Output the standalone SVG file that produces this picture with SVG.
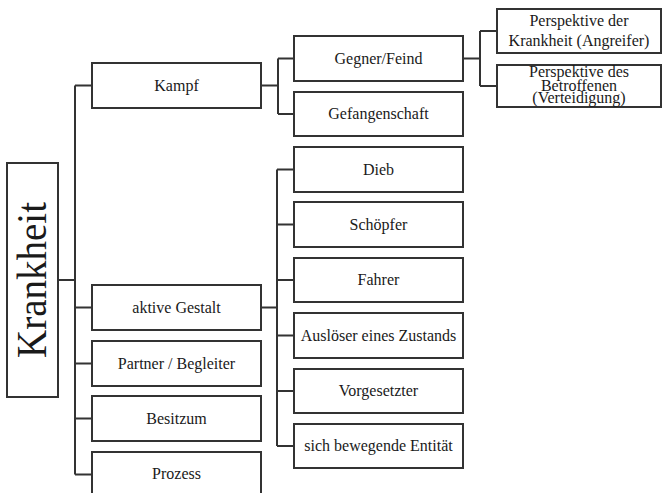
<svg xmlns="http://www.w3.org/2000/svg" width="662" height="493" viewBox="0 0 662 493">
<style>
.box{fill:#fff;stroke:#333;stroke-width:2}
.t{font-family:"Liberation Serif","Times New Roman",serif;font-size:16px;fill:#1a1a1a;text-anchor:middle}
.c{fill:none;stroke:#333;stroke-width:2}
</style>
<rect width="662" height="493" fill="#fff"/>
<g id="connectors">
<path class="c" d="M58,280H75M75,85.5V474.5M75,85.5H92M75,307.5H92M75,363.5H92M75,418.5H92M75,474.5H92"/>
<path class="c" d="M261,85.5H278M278,58.5V114M278,58.5H294M278,114H294"/>
<path class="c" d="M463,58.5H480M480,31V86M480,31H497M480,86H497"/>
<path class="c" d="M261,307.5H277M277,169.5V446M277,169.5H294M277,224.5H294M277,280H294M277,335.5H294M277,391H294M277,446H294"/>
</g>
<g id="krankheit"><rect class="box" x="7" y="163" width="51" height="234"/>
<text transform="translate(46,280) rotate(-90)" style="font-family:'Liberation Serif','Times New Roman',serif;font-size:43px;fill:#1a1a1a;text-anchor:middle" textLength="156" lengthAdjust="spacingAndGlyphs">Krankheit</text></g>
<g id="kampf"><rect class="box" x="92" y="63" width="169" height="45"/><text class="t" x="176.5" y="91">Kampf</text></g>
<g id="aktive"><rect class="box" x="92" y="285" width="169" height="45"/><text class="t" x="176.5" y="313">aktive Gestalt</text></g>
<g id="partner"><rect class="box" x="92" y="341" width="169" height="45"/><text class="t" x="176.5" y="369">Partner / Begleiter</text></g>
<g id="besitzum"><rect class="box" x="92" y="396" width="169" height="45"/><text class="t" x="176.5" y="424">Besitzum</text></g>
<g id="prozess"><rect class="box" x="92" y="452" width="169" height="45"/><text class="t" x="176.5" y="479">Prozess</text></g>
<g id="gegner"><rect class="box" x="294" y="36" width="169" height="45"/><text class="t" x="378.5" y="64">Gegner/Feind</text></g>
<g id="gefangenschaft"><rect class="box" x="294" y="92" width="169" height="44"/><text class="t" x="378.5" y="119">Gefangenschaft</text></g>
<g id="dieb"><rect class="box" x="294" y="147" width="169" height="45"/><text class="t" x="378.5" y="175">Dieb</text></g>
<g id="schoepfer"><rect class="box" x="294" y="202" width="169" height="45"/><text class="t" x="378.5" y="230">Schöpfer</text></g>
<g id="fahrer"><rect class="box" x="294" y="258" width="169" height="44"/><text class="t" x="378.5" y="285">Fahrer</text></g>
<g id="ausloeser"><rect class="box" x="294" y="313" width="169" height="45"/><text class="t" x="378.5" y="341">Auslöser eines Zustands</text></g>
<g id="vorgesetzter"><rect class="box" x="294" y="369" width="169" height="44"/><text class="t" x="378.5" y="396">Vorgesetzter</text></g>
<g id="entitaet"><rect class="box" x="294" y="424" width="169" height="44"/><text class="t" x="378.5" y="451">sich bewegende Entität</text></g>
<g id="persp1"><rect class="box" x="497" y="9" width="164" height="44"/><text class="t" x="579" y="26">Perspektive der</text><text class="t" x="579" y="46">Krankheit (Angreifer)</text></g>
<g id="persp2"><rect class="box" x="497" y="65" width="164" height="42"/><text class="t" x="579" y="77">Perspektive des</text><text class="t" x="579" y="91">Betroffenen</text><text class="t" x="579" y="103">(Verteidigung)</text></g>
</svg>
